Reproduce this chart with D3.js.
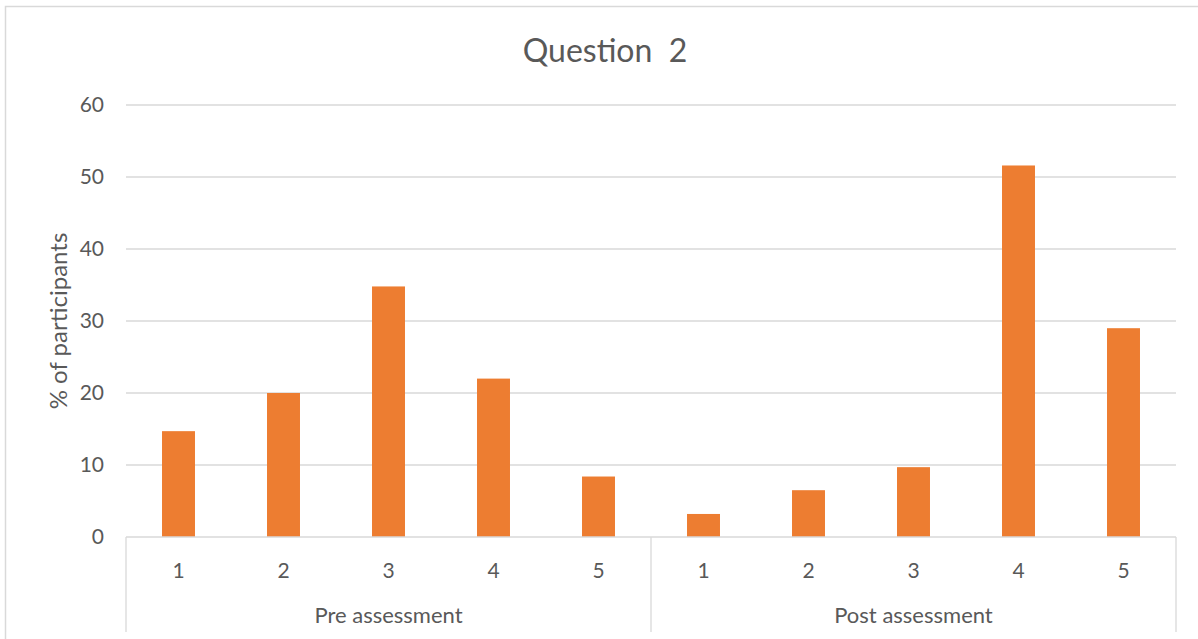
<!DOCTYPE html>
<html>
<head>
<meta charset="utf-8">
<script src="https://cdn.jsdelivr.net/npm/d3@7"></script>
<style>
  html, body { margin: 0; padding: 0; background: #fff; }
  svg { display: block; }
  text { font-family: Lato, "Open Sans", sans-serif; fill: #595959; }
</style>
</head>
<body>
<svg id="chart" width="1198" height="639"></svg>
<script>
const title = "Question  2";
const yAxisTitle = "% of participants";
const groups = ["Pre assessment", "Post assessment"];
const responses = ["1", "2", "3", "4", "5"];
const preValues = [14.7, 20.0, 34.8, 22.0, 8.4];
const postValues = [3.2, 6.5, 9.7, 51.6, 29.0];
const yTicks = [0, 10, 20, 30, 40, 50, 60];

const data = [];
groups.forEach((g, gi) => {
  const vals = gi === 0 ? preValues : postValues;
  responses.forEach((r, ri) => data.push({ key: g + "|" + r, group: g, label: r, value: vals[ri] }));
});

const svg = d3.select("#chart");
const pLeft = 126, pRight = 1176, pTop = 105, pBottom = 537;

// outer frame
svg.append("rect").attr("x", 5.5).attr("y", 6.5).attr("width", 1250).attr("height", 700)
  .attr("fill", "none").attr("stroke", "#d9d9d9").attr("stroke-width", 1.5);

const x = d3.scaleBand().domain(data.map(d => d.key)).range([pLeft, pRight]).paddingInner(0.686).paddingOuter(0.343);
const xg = d3.scaleBand().domain(groups).range([pLeft, pRight]);
const y = d3.scaleLinear().domain([0, 60]).range([pBottom, pTop]);

// gridlines
svg.append("g").selectAll("line").data(yTicks.filter(t => t > 0)).join("line")
  .attr("x1", pLeft).attr("x2", pRight)
  .attr("y1", d => y(d)).attr("y2", d => y(d))
  .attr("stroke", "#d9d9d9").attr("stroke-width", 1.3);

// y axis labels
const yAxis = d3.axisLeft(y).tickValues(yTicks).tickSize(0).tickPadding(0);
const ya = svg.append("g").attr("transform", `translate(${pLeft - 22},0)`).call(yAxis);
ya.select(".domain").remove();
ya.selectAll("text").style("font-size", "21px").attr("fill", "#595959")
  .style("font-family", "Lato, 'Open Sans', sans-serif");

// bars
svg.append("g").selectAll("rect").data(data).join("rect")
  .attr("x", d => x(d.key)).attr("width", x.bandwidth())
  .attr("y", d => y(d.value)).attr("height", d => y(0) - y(d.value))
  .attr("fill", "#ED7D31");

// x axis line & separators
svg.append("line").attr("x1", pLeft).attr("x2", pRight).attr("y1", pBottom).attr("y2", pBottom)
  .attr("stroke", "#d9d9d9").attr("stroke-width", 1.3);
const seps = [pLeft].concat(groups.map(g => xg(g) + xg.bandwidth()));
svg.append("g").selectAll("line").data(seps).join("line")
  .attr("x1", d => d).attr("x2", d => d).attr("y1", pBottom).attr("y2", 632)
  .attr("stroke", "#d9d9d9").attr("stroke-width", 1.3);

// category labels
svg.append("g").selectAll("text").data(data).join("text")
  .attr("x", d => x(d.key) + x.bandwidth() / 2).attr("y", 578)
  .attr("text-anchor", "middle").style("font-size", "21px").text(d => d.label);

// group labels
svg.append("g").selectAll("text").data(groups).join("text")
  .attr("x", d => xg(d) + xg.bandwidth() / 2).attr("y", 623)
  .attr("text-anchor", "middle").style("font-size", "22px").text(d => d);

// y axis title
svg.append("text").attr("transform", "translate(67,321) rotate(-90)")
  .attr("text-anchor", "middle").style("font-size", "24px").text(yAxisTitle);

// title
svg.append("text").attr("x", 605).attr("y", 62).attr("text-anchor", "middle")
  .style("font-size", "32px").style("white-space", "pre").attr("xml:space", "preserve").text(title);
</script>
</body>
</html>
